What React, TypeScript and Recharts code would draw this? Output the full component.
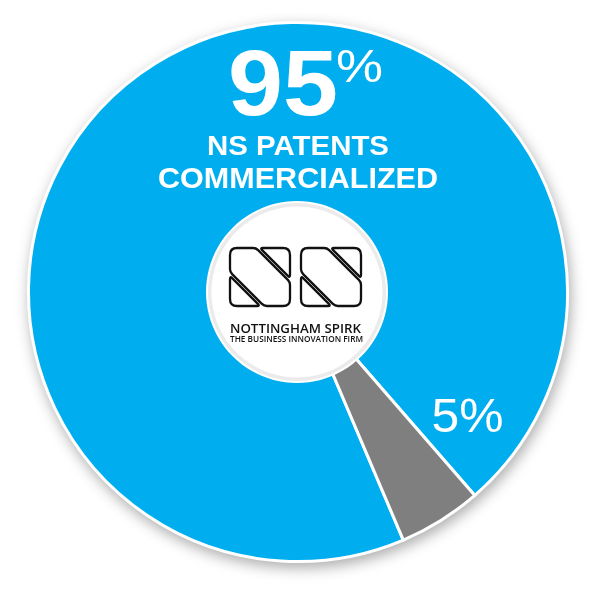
import React from 'react';
import { PieChart, Pie, Cell } from 'recharts';

// ---- data ----
const categories = ['NS patents commercialized', 'Not commercialized'];
const shares = [95, 5];
const headline = ['NS PATENTS', 'COMMERCIALIZED'];
const logoDisc = [{ name: 'logo', value: 1 }];
const logoName = 'NOTTINGHAM SPIRK';
const logoTagline = 'THE BUSINESS INNOVATION FIRM';

const pieData = categories.map((name, i) => ({ name, value: shares[i] }));
const COLORS = ['#00AEEF', '#7F7F7F'];

const CX = 298;
const CY = 292;
const FONT = '"Liberation Sans", Arial, Helvetica, sans-serif';
const LOGO_FONT = '"Open Sans", Lato, sans-serif';

type Pt = [number, number];

function roundedPath(pts: Pt[], rs: number[], dx: number, dy: number): string {
  const n = pts.length;
  let d = '';
  for (let i = 0; i < n; i++) {
    const P = pts[i];
    const A = pts[(i - 1 + n) % n];
    const B = pts[(i + 1) % n];
    const r = rs[i];
    const da = Math.hypot(A[0] - P[0], A[1] - P[1]);
    const db = Math.hypot(B[0] - P[0], B[1] - P[1]);
    const p1 = [P[0] + ((A[0] - P[0]) * r) / da + dx, P[1] + ((A[1] - P[1]) * r) / da + dy];
    const p2 = [P[0] + ((B[0] - P[0]) * r) / db + dx, P[1] + ((B[1] - P[1]) * r) / db + dy];
    d += `${i === 0 ? 'M' : 'L'}${p1[0].toFixed(2)},${p1[1].toFixed(2)} Q${(P[0] + dx).toFixed(2)},${(P[1] + dy).toFixed(2)} ${p2[0].toFixed(2)},${p2[1].toFixed(2)} `;
  }
  return d + 'Z';
}

function Glyph({ x, y }: { x: number; y: number }) {
  const upper: Pt[] = [[30, 0], [60, 0], [60, 30]];
  const band: Pt[] = [[0, 0], [26, 0], [60, 34], [60, 58], [34, 58], [0, 24]];
  const lower: Pt[] = [[0, 28], [0, 58], [30, 58]];
  const common = { fill: '#fff', stroke: '#111', strokeWidth: 2.3, strokeLinejoin: 'round' as const };
  return (
    <g>
      <path d={roundedPath(upper, [3, 7, 3], x, y)} {...common} />
      <path d={roundedPath(band, [7, 3, 3, 7, 3, 3], x, y)} {...common} />
      <path d={roundedPath(lower, [3, 7, 3], x, y)} {...common} />
    </g>
  );
}

const renderShareLabel = (props: any) => {
  const cx = props.cx ?? CX;
  const cy = props.cy ?? CY;
  if (props.index === 0) {
    return (
      <g fill="#fff" fontFamily={FONT}>
        <text x={cx - 70} y={cy - 177} fontSize={93} fontWeight={700} textLength={110} lengthAdjust="spacingAndGlyphs" fill="#fff">
          {shares[0]}
        </text>
        <text x={cx + 38} y={cy - 210} fontSize={46} textLength={47} lengthAdjust="spacingAndGlyphs" fill="#fff">
          %
        </text>
        <text x={cx} y={cy - 137.5} fontSize={28} fontWeight={700} textAnchor="middle" textLength={182} lengthAdjust="spacingAndGlyphs" fill="#fff">
          {headline[0]}
        </text>
        <text x={cx} y={cy - 104.4} fontSize={29.5} fontWeight={700} textAnchor="middle" textLength={280} lengthAdjust="spacingAndGlyphs" fill="#fff">
          {headline[1]}
        </text>
      </g>
    );
  }
  return (
    <text x={cx + 169.5} y={cy + 140} fontSize={48} textAnchor="middle" textLength={72} lengthAdjust="spacingAndGlyphs" fill="#fff" fontFamily={FONT}>
      {`${shares[1]}%`}
    </text>
  );
};

const renderLogo = (props: any) => {
  const cx = props.cx ?? CX - 1;
  const cy = props.cy ?? CY;
  return (
    <g>
      <Glyph x={cx - 67} y={cy - 44} />
      <Glyph x={cx + 4} y={cy - 44} />
      <text x={cx - 67} y={cy + 40.5} fontSize={12.5} fontWeight={600} textLength={131} lengthAdjust="spacingAndGlyphs" fill="#111" fontFamily={LOGO_FONT}>
        {logoName}
      </text>
      <text x={cx - 67} y={cy + 50.2} fontSize={8.2} fontWeight={600} textLength={133} lengthAdjust="spacingAndGlyphs" fill="#111" fontFamily={LOGO_FONT}>
        {logoTagline}
      </text>
    </g>
  );
};

export default function App() {
  return (
    <div style={{ position: 'absolute', left: 0, top: 0, width: 590, height: 590, background: '#fff' }}>
      <div style={{ width: 590, height: 590, filter: 'drop-shadow(2px 5px 7px rgba(0,0,0,0.32))' }}>
        <PieChart width={590} height={590} margin={{ top: 0, right: 0, bottom: 0, left: 0 }}>
          <Pie
            data={pieData}
            dataKey="value"
            nameKey="name"
            cx={CX}
            cy={CY}
            innerRadius={0}
            outerRadius={269.5}
            startAngle={-49}
            endAngle={311}
            stroke="#ffffff"
            strokeWidth={3}
            isAnimationActive={false}
            label={renderShareLabel}
            labelLine={false}
          >
            {pieData.map((d, i) => (
              <Cell key={d.name} fill={COLORS[i]} />
            ))}
          </Pie>
          <Pie
            data={logoDisc}
            dataKey="value"
            cx={CX - 1}
            cy={CY}
            innerRadius={0}
            outerRadius={91}
            fill="#ffffff"
            stroke="none"
            isAnimationActive={false}
          />
          <Pie
            data={logoDisc}
            dataKey="value"
            cx={CX - 1}
            cy={CY}
            innerRadius={85.5}
            outerRadius={89}
            fill="#ebebeb"
            stroke="none"
            isAnimationActive={false}
            label={renderLogo}
            labelLine={false}
          />
        </PieChart>
      </div>
    </div>
  );
}
